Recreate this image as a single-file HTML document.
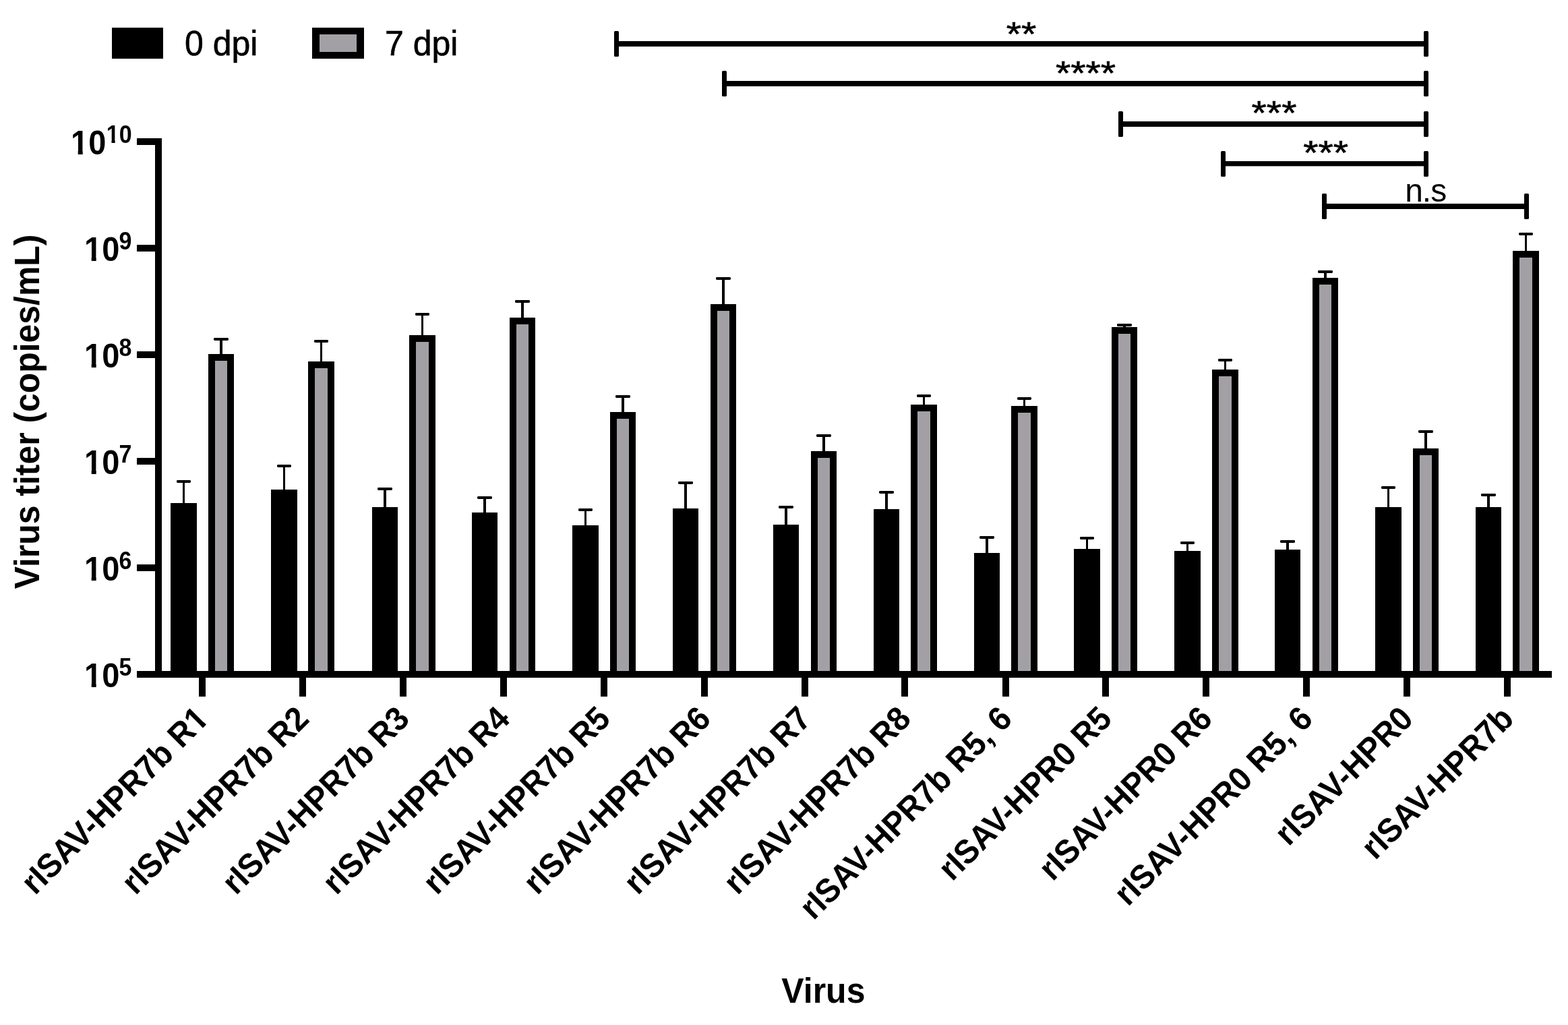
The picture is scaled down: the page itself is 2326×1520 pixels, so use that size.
<!DOCTYPE html>
<html lang="en">
<head>
<meta charset="utf-8">
<title>Virus titer</title>
<style>
html,body{margin:0;padding:0;background:#fff;}
body{width:2326px;height:1520px;overflow:hidden;}
svg{display:block;}
text{font-family:"Liberation Sans",Arial,Helvetica,sans-serif;fill:#000;font-kerning:normal;}
.b{font-weight:bold;}
.tk{font-weight:bold;font-size:47px;}
.sp{font-weight:bold;font-size:34px;}
.xl{font-weight:bold;font-size:47.4px;}
.st{font-size:57.2px;}
</style>
</head>
<body>
<svg width="2326" height="1520" viewBox="0 0 2326 1520">
<rect x="0" y="0" width="2326" height="1520" fill="#fff"/>
<defs>
<clipPath id="k47"><path d="M-700 -141.00H700V47.00H25.62V-5.79H17.69V2.00H10.70V-5.79H1.41V47.00H-700Z"/></clipPath>
<clipPath id="k34"><path d="M-700 -102.00H700V34.00H18.53V-4.47H12.86V2.00H7.67V-4.47H1.02V34.00H-700Z"/></clipPath>
<clipPath id="kx"><path d="M-700 -142.20H700V47.40H-0.52V-5.83H-8.52V2.00H-15.56V-5.83H-24.93V47.40H-700Z"/></clipPath>
</defs>
<g id="legend">
<rect x="166" y="41" width="76" height="46" fill="#000"/>
<text font-size="50" stroke="#000" stroke-width="0.6" transform="translate(274 82) scale(1 1.03)">0 dpi</text>
<rect x="463" y="41" width="77" height="46" fill="#000"/>
<rect x="474" y="51" width="55" height="26" fill="#a2a0a5"/>
<text font-size="50" stroke="#000" stroke-width="0.6" transform="translate(571 82) scale(1 1.03)">7 dpi</text>
</g>
<g id="sig" fill="#000">
<rect x="911" y="46" width="7" height="38" rx="1.6"/><rect x="2112" y="46" width="7" height="38" rx="1.6"/><rect x="914" y="61" width="1201" height="8"/>
<rect x="1071" y="105" width="7" height="38" rx="1.6"/><rect x="2112" y="105" width="7" height="38" rx="1.6"/><rect x="1074" y="120" width="1041" height="8"/>
<rect x="1659" y="165" width="7" height="38" rx="1.6"/><rect x="2112" y="165" width="7" height="38" rx="1.6"/><rect x="1662" y="180" width="453" height="8"/>
<rect x="1811" y="224" width="7" height="38" rx="1.6"/><rect x="2112" y="224" width="7" height="38" rx="1.6"/><rect x="1814" y="239" width="301" height="7.4"/>
<rect x="1961" y="287" width="7" height="38" rx="1.6"/><rect x="2261" y="287" width="7" height="38" rx="1.6"/><rect x="1964" y="302" width="300" height="8"/>
</g>
<g id="siglab" text-anchor="middle">
<text class="st" stroke="#000" stroke-width="0.7" transform="translate(1515.0 67.6) scale(1 0.87)">**</text>
<text class="st" stroke="#000" stroke-width="0.7" transform="translate(1610.6 125.6) scale(1 0.87)">****</text>
<text class="st" stroke="#000" stroke-width="0.7" transform="translate(1890.0 185.1) scale(1 0.87)">***</text>
<text class="st" stroke="#000" stroke-width="0.7" transform="translate(1966.7 243.9) scale(1 0.87)">***</text>
<text x="2114.7" y="298.9" font-size="48" letter-spacing="-1">n.s</text>
</g>
<g id="bars" fill="#000">
<rect x="271" y="714" width="3" height="34"/><rect x="262" y="712" width="21" height="4" rx="1.4"/><rect x="253" y="746" width="39" height="254"/>
<rect x="326" y="503" width="4" height="24"/><rect x="317" y="501" width="22" height="4" rx="1.4"/><rect x="309" y="525" width="38" height="475"/><rect x="319" y="535" width="18" height="465" fill="#a2a0a5"/>
<rect x="420" y="691" width="3" height="37"/><rect x="411" y="689" width="21" height="4" rx="1.4"/><rect x="402" y="726" width="39" height="274"/>
<rect x="475" y="506" width="3" height="32"/><rect x="466" y="504" width="21" height="4" rx="1.4"/><rect x="457" y="536" width="39" height="464"/><rect x="467" y="546" width="19" height="454" fill="#a2a0a5"/>
<rect x="569" y="725" width="4" height="29"/><rect x="560" y="723" width="22" height="4" rx="1.4"/><rect x="552" y="752" width="38" height="248"/>
<rect x="625" y="466" width="3" height="33"/><rect x="616" y="464" width="21" height="4" rx="1.4"/><rect x="607" y="497" width="39" height="503"/><rect x="617" y="507" width="19" height="493" fill="#a2a0a5"/>
<rect x="717" y="738" width="4" height="24"/><rect x="708" y="736" width="22" height="4" rx="1.4"/><rect x="700" y="760" width="38" height="240"/>
<rect x="773" y="447" width="4" height="26"/><rect x="764" y="445" width="22" height="4" rx="1.4"/><rect x="756" y="471" width="38" height="529"/><rect x="766" y="481" width="18" height="519" fill="#a2a0a5"/>
<rect x="867" y="756" width="3" height="25"/><rect x="858" y="754" width="21" height="4" rx="1.4"/><rect x="849" y="779" width="39" height="221"/>
<rect x="922" y="588" width="4" height="25"/><rect x="913" y="586" width="22" height="4" rx="1.4"/><rect x="905" y="611" width="38" height="389"/><rect x="915" y="621" width="18" height="379" fill="#a2a0a5"/>
<rect x="1015" y="716" width="4" height="40"/><rect x="1006" y="714" width="22" height="4" rx="1.4"/><rect x="998" y="754" width="38" height="246"/>
<rect x="1071" y="413" width="4" height="40"/><rect x="1062" y="411" width="22" height="4" rx="1.4"/><rect x="1054" y="451" width="38" height="549"/><rect x="1064" y="461" width="18" height="539" fill="#a2a0a5"/>
<rect x="1164" y="752" width="4" height="28"/><rect x="1155" y="750" width="22" height="4" rx="1.4"/><rect x="1147" y="778" width="38" height="222"/>
<rect x="1220" y="646" width="4" height="25"/><rect x="1211" y="644" width="22" height="4" rx="1.4"/><rect x="1203" y="669" width="38" height="331"/><rect x="1213" y="679" width="18" height="321" fill="#a2a0a5"/>
<rect x="1313" y="730" width="4" height="27"/><rect x="1304" y="728" width="22" height="4" rx="1.4"/><rect x="1296" y="755" width="38" height="245"/>
<rect x="1369" y="587" width="3" height="15"/><rect x="1360" y="585" width="21" height="4" rx="1.4"/><rect x="1351" y="600" width="39" height="400"/><rect x="1361" y="610" width="19" height="390" fill="#a2a0a5"/>
<rect x="1462" y="797" width="4" height="25"/><rect x="1453" y="795" width="22" height="4" rx="1.4"/><rect x="1445" y="820" width="38" height="180"/>
<rect x="1518" y="591" width="3" height="13"/><rect x="1509" y="589" width="21" height="4" rx="1.4"/><rect x="1500" y="602" width="39" height="398"/><rect x="1510" y="612" width="19" height="388" fill="#a2a0a5"/>
<rect x="1611" y="798" width="3" height="18"/><rect x="1602" y="796" width="21" height="4" rx="1.4"/><rect x="1593" y="814" width="39" height="186"/>
<rect x="1666" y="482" width="4" height="5"/><rect x="1657" y="480" width="22" height="4" rx="1.4"/><rect x="1649" y="485" width="38" height="515"/><rect x="1659" y="495" width="18" height="505" fill="#a2a0a5"/>
<rect x="1760" y="805" width="3" height="14"/><rect x="1751" y="803" width="21" height="4" rx="1.4"/><rect x="1742" y="817" width="39" height="183"/>
<rect x="1816" y="534" width="3" height="16"/><rect x="1807" y="532" width="21" height="4" rx="1.4"/><rect x="1798" y="548" width="39" height="452"/><rect x="1808" y="558" width="19" height="442" fill="#a2a0a5"/>
<rect x="1908" y="803" width="4" height="14"/><rect x="1899" y="801" width="22" height="4" rx="1.4"/><rect x="1891" y="815" width="38" height="185"/>
<rect x="1964" y="403" width="4" height="11"/><rect x="1955" y="401" width="22" height="4" rx="1.4"/><rect x="1947" y="412" width="38" height="588"/><rect x="1957" y="422" width="18" height="578" fill="#a2a0a5"/>
<rect x="2058" y="723" width="3" height="31"/><rect x="2049" y="721" width="21" height="4" rx="1.4"/><rect x="2040" y="752" width="39" height="248"/>
<rect x="2113" y="640" width="4" height="27"/><rect x="2104" y="638" width="22" height="4" rx="1.4"/><rect x="2096" y="665" width="38" height="335"/><rect x="2106" y="675" width="18" height="325" fill="#a2a0a5"/>
<rect x="2206" y="734" width="4" height="20"/><rect x="2197" y="732" width="22" height="4" rx="1.4"/><rect x="2189" y="752" width="38" height="248"/>
<rect x="2262" y="347" width="3" height="27"/><rect x="2253" y="345" width="21" height="4" rx="1.4"/><rect x="2244" y="372" width="39" height="628"/><rect x="2254" y="382" width="19" height="618" fill="#a2a0a5"/>
</g>
<g id="axes" fill="#000">
<rect x="230" y="205" width="10" height="800"/>
<rect x="203" y="995" width="2099" height="10"/>
<rect x="203" y="205" width="30" height="10"/><rect x="203" y="363" width="30" height="10"/><rect x="203" y="521" width="30" height="10"/><rect x="203" y="679" width="30" height="10"/><rect x="203" y="837" width="30" height="10"/>
<rect x="295" y="1000" width="10" height="33"/><rect x="444" y="1000" width="10" height="33"/><rect x="593" y="1000" width="10" height="33"/><rect x="742" y="1000" width="10" height="33"/><rect x="891" y="1000" width="10" height="33"/><rect x="1040" y="1000" width="10" height="33"/><rect x="1189" y="1000" width="10" height="33"/><rect x="1337" y="1000" width="10" height="33"/><rect x="1487" y="1000" width="10" height="33"/><rect x="1635" y="1000" width="10" height="33"/><rect x="1784" y="1000" width="10" height="33"/><rect x="1933" y="1000" width="10" height="33"/><rect x="2082" y="1000" width="10" height="33"/><rect x="2231" y="1000" width="10" height="33"/>
</g>
<g id="ylab">
<text class="tk" clip-path="url(#k47)" transform="translate(105 229.2) scale(1 1.06)">10</text><text class="sp" clip-path="url(#k34)" transform="translate(157.8 212.1) scale(1 1.06)">10</text>
<text class="tk" clip-path="url(#k47)" transform="translate(125 387.2) scale(1 1.06)">10</text><text class="sp" transform="translate(176.6 370.1) scale(1 1.06)">9</text>
<text class="tk" clip-path="url(#k47)" transform="translate(125 545.2) scale(1 1.06)">10</text><text class="sp" transform="translate(176.6 528.1) scale(1 1.06)">8</text>
<text class="tk" clip-path="url(#k47)" transform="translate(125 703.2) scale(1 1.06)">10</text><text class="sp" transform="translate(176.6 686.1) scale(1 1.06)">7</text>
<text class="tk" clip-path="url(#k47)" transform="translate(125 861.2) scale(1 1.06)">10</text><text class="sp" transform="translate(176.6 844.1) scale(1 1.06)">6</text>
<text class="tk" clip-path="url(#k47)" transform="translate(125 1019.2) scale(1 1.06)">10</text><text class="sp" transform="translate(176.6 1002.1) scale(1 1.06)">5</text>
</g>
<text class="b" font-size="49.9" text-anchor="middle" transform="translate(58.1 610.5) rotate(-90) scale(1 1.045)">Virus titer (copies/mL)</text>
<text class="b" font-size="50" text-anchor="middle" transform="translate(1221.4 1487) scale(1 1.045)">Virus</text>
<g id="xlab" text-anchor="end">
<text class="xl" clip-path="url(#kx)" transform="translate(312.0 1068.5) rotate(-45) scale(1 1.05)">rISAV-HPR7b R1</text>
<text class="xl" transform="translate(461.0 1068.5) rotate(-45) scale(1 1.05)">rISAV-HPR7b R2</text>
<text class="xl" transform="translate(610.0 1068.5) rotate(-45) scale(1 1.05)">rISAV-HPR7b R3</text>
<text class="xl" transform="translate(759.0 1068.5) rotate(-45) scale(1 1.05)">rISAV-HPR7b R4</text>
<text class="xl" transform="translate(908.0 1068.5) rotate(-45) scale(1 1.05)">rISAV-HPR7b R5</text>
<text class="xl" transform="translate(1057.0 1068.5) rotate(-45) scale(1 1.05)">rISAV-HPR7b R6</text>
<text class="xl" transform="translate(1206.0 1068.5) rotate(-45) scale(1 1.05)">rISAV-HPR7b R7</text>
<text class="xl" transform="translate(1354.0 1068.5) rotate(-45) scale(1 1.05)">rISAV-HPR7b R8</text>
<text class="xl" transform="translate(1504.0 1068.5) rotate(-45) scale(1 1.05)">rISAV-HPR7b R5, 6</text>
<text class="xl" transform="translate(1652.0 1068.5) rotate(-45) scale(1 1.05)">rISAV-HPR0 R5</text>
<text class="xl" transform="translate(1801.0 1068.5) rotate(-45) scale(1 1.05)">rISAV-HPR0 R6</text>
<text class="xl" transform="translate(1950.0 1068.5) rotate(-45) scale(1 1.05)">rISAV-HPR0 R5, 6</text>
<text class="xl" transform="translate(2099.0 1068.5) rotate(-45) scale(1 1.05)">rISAV-HPR0</text>
<text class="xl" transform="translate(2248.0 1068.5) rotate(-45) scale(1 1.05)">rISAV-HPR7b</text>
</g>
</svg>
</body>
</html>
